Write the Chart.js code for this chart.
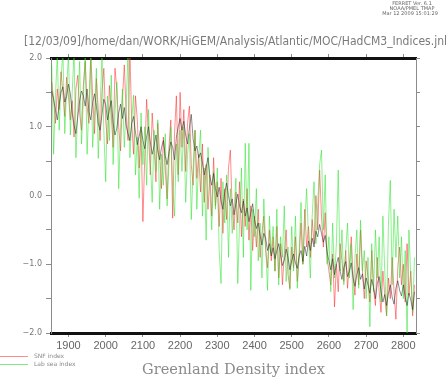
<!DOCTYPE html>
<html>
<head>
<meta charset="utf-8">
<script src="https://cdn.jsdelivr.net/npm/chart.js@4/dist/chart.umd.min.js"></script>
<style>
  html, body { margin: 0; padding: 0; background: #fff; }
  canvas { display: block; }
</style>
</head>
<body>
<canvas id="indices" width="447" height="377"></canvas>
<script>
// model years, every 5th year
const years = [
  1855, 1860, 1865, 1870, 1875, 1880, 1885, 1890, 1895, 1900,
  1905, 1910, 1915, 1920, 1925, 1930, 1935, 1940, 1945, 1950,
  1955, 1960, 1965, 1970, 1975, 1980, 1985, 1990, 1995, 2000,
  2005, 2010, 2015, 2020, 2025, 2030, 2035, 2040, 2045, 2050,
  2055, 2060, 2065, 2070, 2075, 2080, 2085, 2090, 2095, 2100,
  2105, 2110, 2115, 2120, 2125, 2130, 2135, 2140, 2145, 2150,
  2155, 2160, 2165, 2170, 2175, 2180, 2185, 2190, 2195, 2200,
  2205, 2210, 2215, 2220, 2225, 2230, 2235, 2240, 2245, 2250,
  2255, 2260, 2265, 2270, 2275, 2280, 2285, 2290, 2295, 2300,
  2305, 2310, 2315, 2320, 2325, 2330, 2335, 2340, 2345, 2350,
  2355, 2360, 2365, 2370, 2375, 2380, 2385, 2390, 2395, 2400,
  2405, 2410, 2415, 2420, 2425, 2430, 2435, 2440, 2445, 2450,
  2455, 2460, 2465, 2470, 2475, 2480, 2485, 2490, 2495, 2500,
  2505, 2510, 2515, 2520, 2525, 2530, 2535, 2540, 2545, 2550,
  2555, 2560, 2565, 2570, 2575, 2580, 2585, 2590, 2595, 2600,
  2605, 2610, 2615, 2620, 2625, 2630, 2635, 2640, 2645, 2650,
  2655, 2660, 2665, 2670, 2675, 2680, 2685, 2690, 2695, 2700,
  2705, 2710, 2715, 2720, 2725, 2730, 2735, 2740, 2745, 2750,
  2755, 2760, 2765, 2770, 2775, 2780, 2785, 2790, 2795, 2800,
  2805, 2810, 2815, 2820, 2825, 2830
]

// Greenland density index (black)
const density = [
  1.52, 1.40, 1.25, 1.10, 1.32, 1.50, 1.58, 1.36, 1.44, 1.62,
  1.48, 1.20, 1.02, 0.90, 1.15, 1.38, 1.52, 1.45, 1.30, 1.55,
  1.22, 1.10, 1.35, 1.48, 1.30, 1.05, 0.95, 1.18, 1.40, 1.32,
  1.10, 1.25, 1.38, 1.05, 0.88, 0.98, 1.20, 1.33, 1.12, 1.28,
  1.02, 0.90, 0.80, 1.05, 1.15, 0.92, 0.74, 0.86, 1.00, 0.80,
  0.68, 0.85, 1.00, 0.78, 0.60, 0.72, 0.88, 0.65, 0.52, 0.70,
  0.80, 0.58, 0.45, 0.62, 0.78, 0.70, 0.52, 0.85, 1.00, 1.12,
  0.95, 1.08, 0.88, 0.75, 0.98, 1.18, 0.82, 0.65, 0.72, 0.55,
  0.62, 0.48, 0.30, 0.42, 0.55, 0.28, 0.15, 0.32, 0.10, -0.02,
  0.12, -0.08, -0.20, 0.05, 0.18, 0.00, -0.15, -0.05, -0.28, -0.12,
  0.02, -0.16, -0.25, -0.08, -0.30, -0.18, -0.38, -0.26, -0.12, -0.35,
  -0.48, -0.40, -0.58, -0.72, -0.55, -0.62, -0.80, -0.70, -0.88, -0.76,
  -0.92, -0.80, -0.70, -0.86, -1.02, -0.94, -0.78, -0.90, -1.08, -0.95,
  -0.85, -0.98, -1.06, -0.88, -0.80, -0.96, -0.74, -0.88, -0.66, -0.80,
  -0.62, -0.75, -0.52, -0.60, -0.42, -0.55, -0.68, -0.58, -0.82, -0.95,
  -1.08, -0.92, -1.15, -1.00, -0.90, -1.10, -1.22, -1.05, -0.96, -1.18,
  -1.10, -0.98, -1.20, -1.32, -1.15, -1.05, -1.22, -1.14, -1.36, -1.20,
  -1.30, -1.42, -1.22, -1.34, -1.50, -1.28, -1.18, -1.40, -1.55, -1.44,
  -1.60, -1.42, -1.30, -1.48, -1.58, -1.35, -1.24, -1.38, -1.46, -1.30,
  -1.48, -1.60, -1.42, -1.52, -1.66, -1.40
]

// SNF index (red)
const snf = [
  1.65, 1.40, 1.05, 1.55, 1.25, 1.80, 1.50, 1.15, 1.72, 1.45,
  1.10, 1.38, 0.85, 1.55, 1.75, 1.20, 0.95, 1.60, 1.95, 1.30,
  1.05, 2.05, 1.45, 0.90, 1.70, 1.25, 0.80, 1.50, 1.85, 1.10,
  0.75, 1.60, 1.20, 0.70, 1.85, 1.55, 1.00, 0.65, 1.40, 1.90,
  1.20, 0.80, 2.10, 1.05, 0.60, 1.45, 1.10, 0.40, 0.95, -0.38,
  0.55, 1.40, 0.90, 0.30, 1.20, 0.75, 0.20, 1.05, 0.60, 0.10,
  0.85, 0.40, -0.05, 0.70, 1.10, -0.33, 0.90, 1.45, 0.30, 1.50,
  0.70, 1.25, 0.35, 1.05, 1.30, 0.45, 0.15, 0.95, 0.25, 0.60,
  0.05, 0.75, -0.10, 0.45, -0.20, 0.30, -0.30, 0.55, -0.15, 0.20,
  -0.45, 0.25, -0.55, 0.10, -0.35, 0.40, 0.66, -0.20, -0.50, 0.05,
  -0.40, 0.20, -0.60, -0.05, -0.45, 0.10, -0.65, -0.15, -0.80, -0.30,
  -0.75, -0.20, -0.90, -0.55, -0.30, -0.80, -1.05, -0.50, -0.95, -0.60,
  -1.10, -0.45, -1.20, -0.70, -1.30, -0.85, -0.50, -1.15, -1.35, -0.75,
  -1.05, -0.60, -1.25, -0.90, -0.40, -1.00, -0.20, -0.75, -0.45, -0.90,
  -0.35, -0.70, 0.00, -0.50, 0.37, -0.30, -0.75, -0.25, -0.90, -1.10,
  -1.30, -0.85, -1.62, -1.00, -1.40, -0.70, -0.95, -1.25, -0.80, -1.35,
  -1.00, -0.60, -1.20, -1.45, -0.85, -1.30, -0.50, -1.10, -1.50, -0.95,
  -1.20, -1.55, -0.80, -1.35, -1.60, -0.90, -1.40, -1.70, -1.10, -1.45,
  -1.75, -1.20, -1.50, -0.90, -1.40, -1.80, -1.05, -0.75, -1.30, -1.00,
  -1.55, -0.70, -1.45, -1.10, -1.75, -1.30
]

// Lab sea index (green)
const labSea = [
  1.90, 0.60, 1.45, 2.05, 0.95, 1.70, 2.10, 0.90, 1.55, 2.05,
  0.88, 1.50, 2.10, 0.55, 1.25, 1.95, 0.75, 1.40, 2.10, 0.60,
  1.35, 2.05, 0.70, 1.20, 1.85, 0.54, 1.30, 2.00, 0.95, 0.20,
  1.45, 0.80, 1.75, 0.45, 1.20, 1.65, 0.10, 1.00, 1.55, 0.70,
  1.30, 2.10, 0.55, 1.10, 1.46, 0.30, 0.85, -0.04, 1.20, 0.45,
  1.00, 0.15, 1.25, 0.50, -0.10, 0.95, 0.35, 1.10, -0.20, 0.60,
  0.15, 0.90, -0.15, 0.45, 1.00, 0.10, -0.30, 0.75, 0.20, 0.95,
  0.35, 1.00, -0.10, 0.60, 0.90, -0.35, 0.40, 0.95, -0.20, 0.55,
  0.95, -0.30, 0.40, -0.65, 0.70, 0.10, -0.50, 0.35, -0.20, 0.40,
  -0.80, -1.28, 0.20, -0.40, 0.30, -0.90, 0.10, -0.55, -0.20, 0.25,
  -1.28, -0.35, 0.40, -0.90, 0.76, -0.50, 0.76, -1.38, -0.20, -0.60,
  0.10, -0.95, -0.40, -1.20, -0.05, -0.70, -1.38, -0.30, -0.85, -0.45,
  -1.10, -0.20, -1.30, -0.60, -0.90, -0.15, -1.25, -0.75, -1.37, -0.45,
  -1.10, -0.30, -1.35, -0.80, -0.10, -1.00, -0.40, 0.10, -0.60, -1.20,
  -0.30, 0.20, -0.70, -0.10, 0.45, 0.66, -0.50, 0.30, -1.00, -0.60,
  -1.40, -0.40, -1.20, -0.70, 0.37, -1.10, -0.50, -1.30, -0.80, -0.40,
  -1.20, -0.70, -1.66, -0.90, -0.50, -1.35, -0.36, -1.10, -0.80, -1.50,
  -0.90, -1.91, -0.70, -1.40, -0.50, -1.20, -0.60, -1.55, -0.30, -1.10,
  -1.75, -0.40, 0.22, -1.30, -0.20, -0.90, -0.30, -1.20, -0.60, -1.50,
  -0.80, -2.05, -0.50, -1.20, -1.70, -0.90
]

const yearTicks = [1900, 2000, 2100, 2200, 2300, 2400, 2500, 2600, 2700, 2800]
const yTicks = [-2, -1, 0, 1, 2]

const pts = vals => years.map((yr, i) => ({x: yr, y: vals[i]}))

const fixSize = (prop, px) => scale => { scale[prop] = px }
const setYearTicks = scale => { scale.ticks = yearTicks.map(v => ({value: v})) }

// titles, stamp and legend in the old FERRET layout
const ferretText = {
  id: 'ferretText',
  afterDraw(chart) {
    const ctx = chart.ctx
    ctx.save()
    const fitText = (txt, x, y, w, font, color) => {
      ctx.font = font
      ctx.fillStyle = color
      ctx.textBaseline = 'middle'
      ctx.textAlign = 'left'
      const m = ctx.measureText(txt).width
      ctx.save()
      ctx.translate(x, y)
      ctx.scale(w / m, 1)
      ctx.fillText(txt, 0, 0)
      ctx.restore()
    }
    fitText('[12/03/09]/home/dan/WORK/HiGEM/Analysis/Atlantic/MOC/HadCM3_Indices.jnl',
      24, 42, 423, '13px "DejaVu Sans"', '#7a7a7a')
    fitText('Greenland Density index', 142, 370, 183, '15px "DejaVu Serif"', '#8a8a8a')

    ctx.font = '5px "DejaVu Sans"'
    ctx.fillStyle = '#666'
    ctx.textAlign = 'center'
    ctx.textBaseline = 'middle'
    ctx.fillText('FERRET Ver. 6.1', 412, 4)
    ctx.fillText('NOAA/PMEL TMAP', 412, 9)
    ctx.fillText('Mar 12 2009 15:01:29', 410, 14)

    const legend = [['SNF index', 'rgba(255,60,60,0.6)', 356], ['Lab sea index', 'rgba(40,220,40,0.6)', 364]]
    legend.forEach(([label, color, y]) => {
      ctx.strokeStyle = color
      ctx.lineWidth = 1
      ctx.beginPath()
      ctx.moveTo(0, y + 0.5)
      ctx.lineTo(28, y + 0.5)
      ctx.stroke()
      ctx.font = '6px "DejaVu Sans"'
      ctx.fillStyle = '#888'
      ctx.textAlign = 'left'
      ctx.fillText(label, 34, y)
    })
    ctx.restore()
  }
}

const axisGray = '#8c8c8c'

new Chart(document.getElementById('indices'), {
  type: 'line',
  data: {
    datasets: [
      {label: 'SNF index', data: pts(snf), borderColor: 'rgba(255,30,30,0.5)', order: 2},
      {label: 'Lab sea index', data: pts(labSea), borderColor: 'rgba(30,225,30,0.5)', order: 1},
      {label: 'Greenland density', data: pts(density), borderColor: 'rgba(30,30,30,0.5)', order: 0}
    ]
  },
  options: {
    responsive: false,
    animation: false,
    devicePixelRatio: 1,
    layout: {padding: 0},
    elements: {
      point: {radius: 0},
      line: {borderWidth: 1, tension: 0}
    },
    plugins: {
      legend: {display: false},
      tooltip: {enabled: false}
    },
    scales: {
      x: {
        type: 'linear',
        position: 'bottom',
        min: 1853,
        max: 2834,
        afterBuildTicks: setYearTicks,
        afterFit: fixSize('height', 44),
        ticks: {color: '#666', font: {family: '"Liberation Sans"', size: 11}, padding: 2,
          maxRotation: 0, autoSkip: false, callback: v => String(v)},
        grid: {drawOnChartArea: false, tickLength: 4, color: axisGray},
        border: {color: '#111', width: 3, dash: [3, 1]}
      },
      xTop: {
        type: 'linear',
        position: 'top',
        min: 1853,
        max: 2834,
        afterBuildTicks: setYearTicks,
        afterFit: fixSize('height', 58),
        ticks: {display: false},
        grid: {drawOnChartArea: false, tickLength: 4, color: axisGray},
        border: {color: '#111', width: 3, dash: [3, 1]}
      },
      y: {
        position: 'left',
        min: -2,
        max: 2,
        afterFit: fixSize('width', 51),
        ticks: {stepSize: 0.5, color: '#777', font: {family: '"DejaVu Sans"', size: 8}, padding: 4,
          callback: v => yTicks.includes(v) ? (v < 0 ? '\u2212' : '') + Math.abs(v).toFixed(1) : ''},
        grid: {drawOnChartArea: false, tickLength: 5, color: axisGray},
        border: {color: axisGray, width: 1}
      },
      yRight: {
        position: 'right',
        min: -2,
        max: 2,
        afterFit: fixSize('width', 31),
        ticks: {stepSize: 0.5, display: false},
        grid: {drawOnChartArea: false, tickLength: 4, color: axisGray},
        border: {color: axisGray, width: 1}
      }
    }
  },
  plugins: [ferretText]
})
</script>
</body>
</html>
